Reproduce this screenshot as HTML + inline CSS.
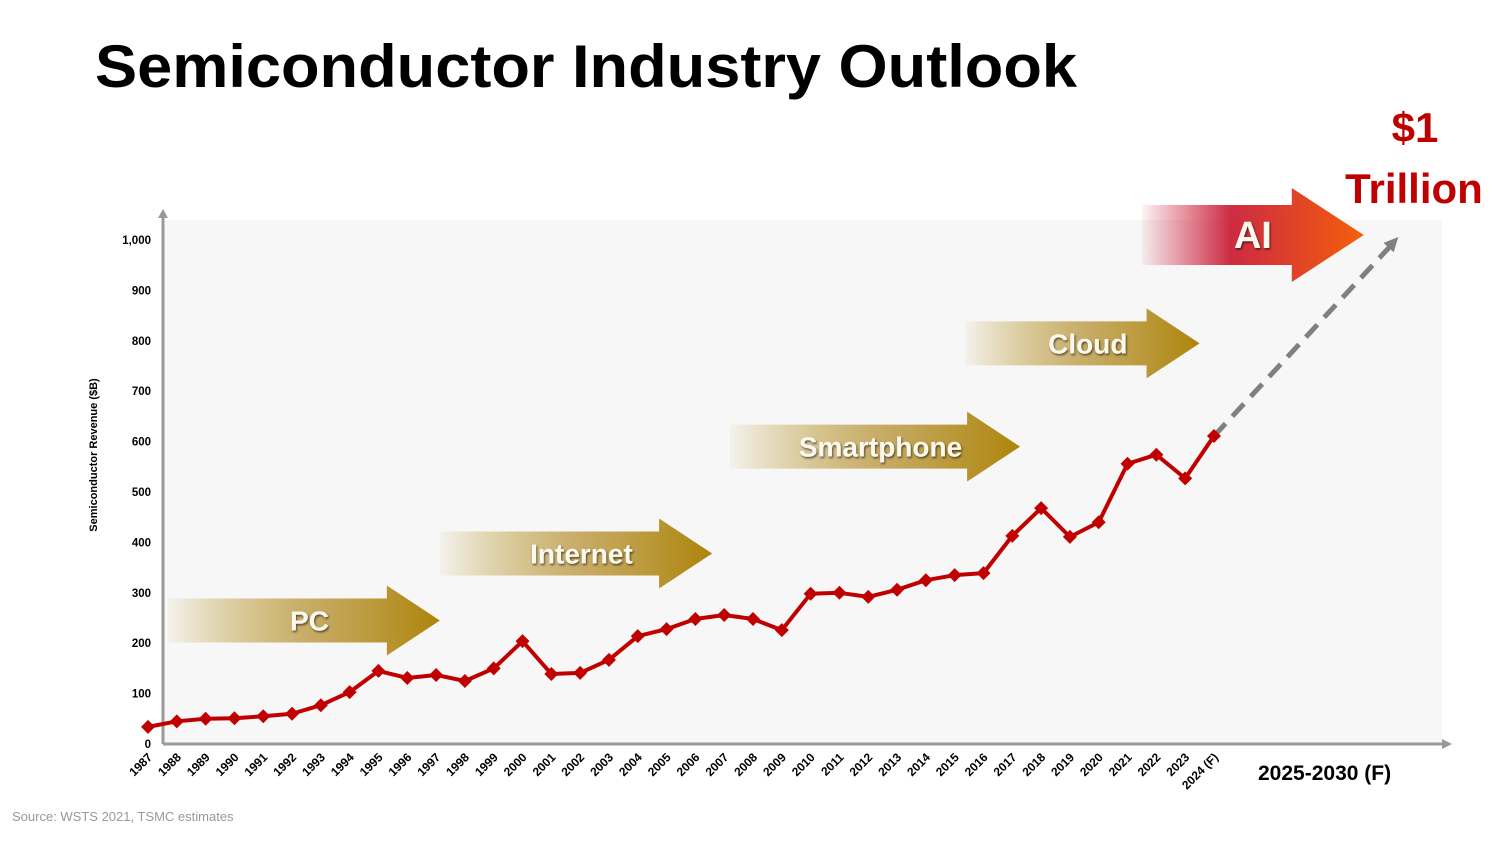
<!DOCTYPE html>
<html><head><meta charset="utf-8"><style>
body{margin:0;background:#fff;width:1499px;height:836px;overflow:hidden;font-family:"Liberation Sans",sans-serif}
</style></head><body>
<svg width="1499" height="836" viewBox="0 0 1499 836" xmlns="http://www.w3.org/2000/svg">
<defs>
<linearGradient id="gold" x1="0" x2="1" y1="0" y2="0">
<stop offset="0" stop-color="#b08a10" stop-opacity="0.05"/>
<stop offset="0.5" stop-color="#c0a050" stop-opacity="0.85"/>
<stop offset="1" stop-color="#ad840a"/>
</linearGradient>
<linearGradient id="red" x1="0" x2="1" y1="0" y2="0">
<stop offset="0" stop-color="#c8102e" stop-opacity="0.05"/>
<stop offset="0.4" stop-color="#c8142e" stop-opacity="0.9"/>
<stop offset="1" stop-color="#f5600a"/>
</linearGradient>
<filter id="ts"><feDropShadow dx="1" dy="1.5" stdDeviation="1" flood-color="#000" flood-opacity="0.6"/></filter>
</defs>
<text x="95" y="87" font-size="60" font-weight="bold" textLength="982" lengthAdjust="spacingAndGlyphs" fill="#000">Semiconductor Industry Outlook</text>
<rect x="163" y="220" width="1279" height="524" fill="#f7f7f7"/>
<g id="arrows"></g>
<g id="ygrid"></g>
<line x1="163" y1="744" x2="163" y2="216" stroke="#999" stroke-width="3"/>
<polygon points="158,218 168,218 163,209" fill="#999"/>
<line x1="163" y1="744" x2="1444" y2="744" stroke="#999" stroke-width="3"/>
<polygon points="1442,739 1442,749 1452,744" fill="#999"/>
<text transform="translate(97,455) rotate(-90)" text-anchor="middle" font-size="11" font-weight="bold">Semiconductor Revenue ($B)</text>
<g id="series"></g>
<text x="1258" y="780" font-size="21" font-weight="bold">2025-2030 (F)</text>
<text x="1415" y="142" text-anchor="middle" font-size="42" font-weight="bold" fill="#c00000">$1</text>
<text x="1414" y="203" text-anchor="middle" font-size="42" font-weight="bold" fill="#c00000">Trillion</text>
<text x="12" y="821" font-size="13" fill="#999">Source: WSTS 2021, TSMC estimates</text>
</svg>
<script>
const years=[1987,1988,1989,1990,1991,1992,1993,1994,1995,1996,1997,1998,1999,2000,2001,2002,2003,2004,2005,2006,2007,2008,2009,2010,2011,2012,2013,2014,2015,2016,2017,2018,2019,2020,2021,2022,2023,2024];
const yearLabels=["1987","1988","1989","1990","1991","1992","1993","1994","1995","1996","1997","1998","1999","2000","2001","2002","2003","2004","2005","2006","2007","2008","2009","2010","2011","2012","2013","2014","2015","2016","2017","2018","2019","2020","2021","2022","2023","2024 (F)"];
const revenue=[34,45,50,51,55,60,77,103,145,131,137,125,150,204,139,141,167,214,228,248,256,248,226,298,300,292,306,325,335,339,413,468,411,440,556,574,527,611];
const forecastValue=1006;
const forecastYear=2030.4;
const yTicks=[0,100,200,300,400,500,600,700,800,900,1000];
const yTickLabels=["0","100","200","300","400","500","600","700","800","900","1,000"];
const eras=["PC","Internet","Smartphone","Cloud","AI"];
const eraStart=[1987.7,1997.13,2007.2,2015.36,2021.5];
const eraEnd=[1997.13,2006.58,2017.27,2023.5,2029.2];
const eraLevel=[245,378,590,795,1010];

const NS="http://www.w3.org/2000/svg";
const xs=y=>148+(y-1987)*28.81;
const ys=v=>744-v*0.504;
function mk(t,a,p){const e=document.createElementNS(NS,t);for(const k in a)e.setAttribute(k,a[k]);p.appendChild(e);return e;}
const yg=document.getElementById('ygrid');
yTicks.forEach((v,i)=>{const t=mk('text',{x:151,y:ys(v)+4,'text-anchor':'end','font-size':11.5,'font-weight':'bold'},yg);


t.textContent=yTickLabels[i];});
const s=document.getElementById('series');
years.forEach((y,i)=>{const t=mk('text',{transform:`translate(${xs(y)+5},${758}) rotate(-45)`,'text-anchor':'end','font-size':12,'font-weight':'bold'},s);


t.textContent=yearLabels[i];});
const ln=years.length-1;
const fx=xs(forecastYear), fy=ys(forecastValue);
const d=mk('line',{x1:xs(years[ln]),y1:ys(revenue[ln]),x2:fx-6,y2:fy+7,stroke:'#808080','stroke-width':5,'stroke-dasharray':'17 10'},s);


const ang=Math.atan2(fy-ys(revenue[ln]),fx-xs(years[ln]));
const hp=(l,a)=>[fx+Math.cos(ang+a)*l,fy+Math.sin(ang+a)*l].join(',');
const ah=mk('polygon',{points:`${fx},${fy} ${hp(16,Math.PI-0.45)} ${hp(16,Math.PI+0.45)}`,fill:'#808080'},s);


const pl=mk('polyline',{points:years.map((y,i)=>xs(y)+','+ys(revenue[i])).join(' '),fill:'none',stroke:'#c00000','stroke-width':4,'stroke-linejoin':'round'},s);


years.forEach((y,i)=>{const cx=xs(y),cy=ys(revenue[i]);
const m=mk('polygon',{points:`${cx},${cy-7} ${cx+7},${cy} ${cx},${cy+7} ${cx-7},${cy}`,fill:'#c00000'},s);

});
const ag=document.getElementById('arrows');
eras.forEach((n,i)=>{const x0=xs(eraStart[i]),x1=xs(eraEnd[i]),cy=ys(eraLevel[i]);
const ai=i==4;const bh=ai?30:22,hh=ai?47:35,hl=ai?72:53;
const g=mk('g',{},ag);


mk('polygon',{points:`${x0},${cy-bh} ${x1-hl},${cy-bh} ${x1-hl},${cy-hh} ${x1},${cy} ${x1-hl},${cy+hh} ${x1-hl},${cy+bh} ${x0},${cy+bh}`,fill:ai?'url(#red)':'url(#gold)'},g);
const t=mk('text',{x:(x0+x1-hl)/2+(ai?36:32),y:cy+(ai?13:10),'text-anchor':'middle','font-size':ai?38:28,'font-weight':'bold',fill:'#fbf8ee',filter:'url(#ts)'},g);
t.textContent=n;});
</script>
</body></html>
